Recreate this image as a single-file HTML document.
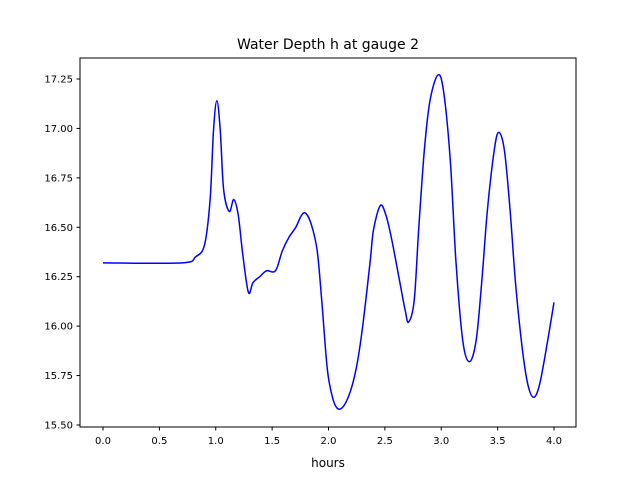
<!DOCTYPE html>
<html><head><meta charset="utf-8"><style>
body{margin:0;background:#fff;}
svg text{font-family:"DejaVu Sans","Liberation Sans",sans-serif;fill:#000;}
</style></head><body>
<svg id="chart" width="640" height="480" xmlns="http://www.w3.org/2000/svg">
<rect width="640" height="480" fill="#fff"/>
<text x="328" y="49" font-size="14" text-anchor="middle">Water Depth h at gauge 2</text>
<g id="axes"></g>
<text x="328" y="467" font-size="12" text-anchor="middle">hours</text>
</svg>
<script>
const xTicks=[0,0.5,1,1.5,2,2.5,3,3.5,4];
const xTickLabels=["0.0","0.5","1.0","1.5","2.0","2.5","3.0","3.5","4.0"];
const yTicks=[15.5,15.75,16,16.25,16.5,16.75,17,17.25];
const yTickLabels=["15.50","15.75","16.00","16.25","16.50","16.75","17.00","17.25"];
const hours=[0,0.7,0.82,0.9,0.95,0.98,1.01,1.04,1.07,1.12,1.16,1.2,1.24,1.29,1.33,1.39,1.45,1.53,1.59,1.65,1.71,1.76,1.8,1.85,1.9,1.94,1.99,2.04,2.09,2.15,2.21,2.26,2.31,2.37,2.4,2.46,2.51,2.56,2.63,2.68,2.71,2.76,2.8,2.85,2.9,2.97,3.02,3.08,3.13,3.19,3.25,3.31,3.36,3.41,3.47,3.51,3.56,3.61,3.66,3.72,3.77,3.82,3.87,3.93,4.0];
const depth=[16.32,16.32,16.35,16.41,16.64,16.99,17.14,16.99,16.69,16.58,16.64,16.56,16.36,16.17,16.22,16.25,16.28,16.28,16.38,16.45,16.5,16.56,16.57,16.51,16.38,16.13,15.78,15.63,15.58,15.61,15.7,15.83,16.03,16.33,16.49,16.61,16.56,16.44,16.23,16.08,16.02,16.13,16.49,16.89,17.14,17.27,17.19,16.84,16.33,15.93,15.82,15.93,16.23,16.59,16.89,16.98,16.89,16.59,16.21,15.88,15.7,15.64,15.7,15.88,16.12];
const L=80,R=576,T=58,B=427;
const xs=v=>103+v*112.75;
const ys=v=>79+(17.25-v)*197.7;
const ns="http://www.w3.org/2000/svg";
const g=document.getElementById('axes');
function mk(tag,attrs){const e=document.createElementNS(ns,tag);for(const k in attrs)e.setAttribute(k,attrs[k]);g.appendChild(e);return e;}
// line
const pts=hours.map((h,i)=>[xs(h),ys(depth[i])]);
let d=`M${pts[0][0]},${pts[0][1]}`;
for(let i=0;i<pts.length-1;i++){const p0=pts[Math.max(0,i-1)],p1=pts[i],p2=pts[i+1],p3=pts[Math.min(pts.length-1,i+2)];
d+=` C${p1[0]+(p2[0]-p0[0])/6},${p1[1]+(p2[1]-p0[1])/6} ${p2[0]-(p3[0]-p1[0])/6},${p2[1]-(p3[1]-p1[1])/6} ${p2[0]},${p2[1]}`;}
const line=mk('path',{d:d,fill:'none',stroke:'#0000ff','stroke-width':1.5});


const frame=mk('rect',{x:L,y:T,width:R-L,height:B-T,fill:'none',stroke:'#000','stroke-width':1});


xTicks.forEach((v,i)=>{const x=xs(v);
mk('line',{x1:x,x2:x,y1:B,y2:B+3.5,stroke:'#000'});
const t=mk('text',{x:x,y:B+17,'font-size':10,'text-anchor':'middle'});t.textContent=xTickLabels[i];

});
yTicks.forEach((v,i)=>{const y=ys(v);
mk('line',{x1:L,x2:L-3.5,y1:y,y2:y,stroke:'#000'});
const t=mk('text',{x:L-7,y:y+3.5,'font-size':10,'text-anchor':'end'});t.textContent=yTickLabels[i];

});
</script>
</body></html>
